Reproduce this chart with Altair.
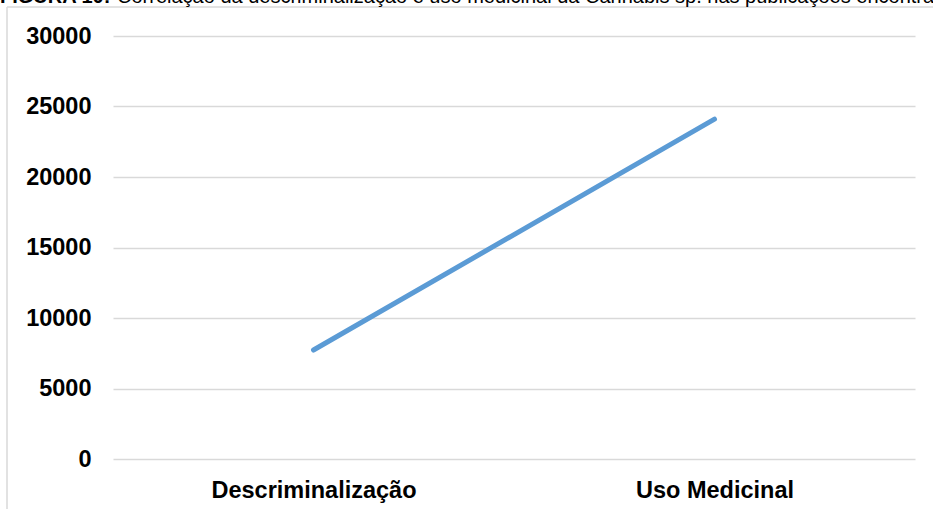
import altair as alt
import pandas as pd

categories = ["Descriminalização", "Uso Medicinal"]
values = [7730, 24100]
y_ticks = [0, 5000, 10000, 15000, 20000, 25000, 30000]
title_bold = "FIGURA 10:"
title_rest = "Correlação da descriminalização e uso medicinal da Cannabis sp. nas publicações encontradas"

df = pd.DataFrame({"cat": categories, "val": values})

FONT = "Liberation Sans"
W, H = 802, 423
PAD = {"left": 113, "top": 36, "right": 18, "bottom": 50}
LABEL_SIZE = 23.5
TITLE_SIZE = 20

line = alt.Chart(df).mark_line(color="#5B9BD5", strokeWidth=5, strokeCap="round").encode(
    x=alt.X("cat:N", sort=categories,
            scale=alt.Scale(type="point", padding=0.5),
            axis=alt.Axis(title=None, labelAngle=0, labelFont=FONT, labelFontSize=LABEL_SIZE,
                          labelFontWeight="bold", labelColor="#000000", labelPadding=19,
                          labelLimit=0, domain=False, ticks=False, grid=False)),
    y=alt.Y("val:Q", scale=alt.Scale(domain=[0, 30000], nice=False),
            axis=alt.Axis(title=None, values=y_ticks, format="d", labelFont=FONT,
                          labelFontSize=LABEL_SIZE, labelFontWeight="bold", labelColor="#000000",
                          labelPadding=22, domain=False, ticks=False,
                          grid=True, gridColor="#d9d9d9", gridWidth=1.5)),
)

frame_df = pd.DataFrame({"k": [0]})
left_border = alt.Chart(frame_df).mark_rule(color="#d9d9d9", strokeWidth=1.5).encode(
    x=alt.value(-106), y=alt.value(-29), y2=alt.value(H + PAD["bottom"])
)
top_border = alt.Chart(frame_df).mark_rule(color="#d9d9d9", strokeWidth=1.5).encode(
    x=alt.value(-106), x2=alt.value(W + PAD["right"]), y=alt.value(-29)
)

t1 = alt.Chart(pd.DataFrame({"t": [title_bold]})).mark_text(
    align="left", baseline="alphabetic", font=FONT, fontSize=TITLE_SIZE, fontWeight="bold",
    color="#000000"
).encode(text="t:N", x=alt.value(-113), y=alt.value(-33))
t2 = alt.Chart(pd.DataFrame({"t": [title_rest]})).mark_text(
    align="left", baseline="alphabetic", font=FONT, fontSize=TITLE_SIZE, color="#000000"
).encode(text="t:N", x=alt.value(-113 + 117), y=alt.value(-33))

chart = alt.layer(left_border, top_border, line, t1, t2).properties(
    width=W, height=H, padding=PAD, autosize=alt.AutoSizeParams(type="none"),
    background="white"
).configure_view(stroke=None)

chart.save("out.html", embed_options={"renderer": "svg", "actions": False})
